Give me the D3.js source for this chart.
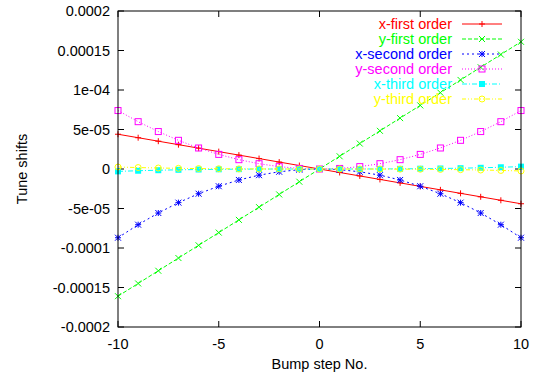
<!DOCTYPE html>
<html>
<head>
<meta charset="utf-8">
<script src="https://cdn.jsdelivr.net/npm/d3@7"></script>
<style>
  body { margin: 0; background: #fff; }
  text { font-family: "Liberation Sans", Arial, sans-serif; font-size: 14.5px; fill: #000; }
</style>
</head>
<body>
<script>
// bump steps
var steps = [-10,-9,-8,-7,-6,-5,-4,-3,-2,-1,0,1,2,3,4,5,6,7,8,9,10];

// tune shifts in units of 1e-6
var xFirst  = [44,39.6,35.2,30.8,26.4,22,17.6,13.2,8.8,4.4,0,-4.4,-8.8,-13.2,-17.6,-22,-26.4,-30.8,-35.2,-39.6,-44];
var yFirst  = [-161,-144.9,-128.8,-112.7,-96.6,-80.5,-64.4,-48.3,-32.2,-16.1,0,16.1,32.2,48.3,64.4,80.5,96.6,112.7,128.8,144.9,161];
var xSecond = [-87,-70.5,-55.7,-42.6,-31.3,-21.8,-13.9,-7.8,-3.5,-0.9,0,-0.9,-3.5,-7.8,-13.9,-21.8,-31.3,-42.6,-55.7,-70.5,-87];
var ySecond = [74,59.9,47.4,36.3,26.6,18.5,11.8,6.7,3.0,0.7,0,0.7,3.0,6.7,11.8,18.5,26.6,36.3,47.4,59.9,74];
var xThird  = [-3,-2.19,-1.54,-1.03,-0.65,-0.38,-0.19,-0.08,-0.02,0,0,0,0.02,0.08,0.19,0.38,0.65,1.03,1.54,2.19,3];
var yThird  = [2.5,1.82,1.28,0.86,0.54,0.31,0.16,0.07,0.02,0,0,0,-0.02,-0.07,-0.16,-0.31,-0.54,-0.86,-1.28,-1.82,-2.5];

var xTicks = [-10,-5,0,5,10];
var yTicks = [0.0002,0.00015,0.0001,0.00005,0,-0.00005,-0.0001,-0.00015,-0.0002];
var yTickLabels = ["0.0002","0.00015","1e-04","5e-05","0","-5e-05","-0.0001","-0.00015","-0.0002"];

var series = [
  {name:"x-first order",  vals:xFirst,  color:"#ff0000", dash:null,        pt:"plus"},
  {name:"y-first order",  vals:yFirst,  color:"#00ff00", dash:"4,2",       pt:"cross"},
  {name:"x-second order", vals:xSecond, color:"#0000ff", dash:"2,3",       pt:"star"},
  {name:"y-second order", vals:ySecond, color:"#ff00ff", dash:"1,2",       pt:"square"},
  {name:"x-third order",  vals:xThird,  color:"#00ffff", dash:"5,2,1,2",   pt:"fsquare"},
  {name:"y-third order",  vals:yThird,  color:"#ffff00", dash:"4,2,1,2,1,2", pt:"circle"}
];

var W = 537, H = 377;
var L = 118, R = 521, T = 11, B = 327;

var svg = d3.select("body").append("svg").attr("width", W).attr("height", H);

var x = d3.scaleLinear().domain([-10,10]).range([L,R]);
var y = d3.scaleLinear().domain([-0.0002,0.0002]).range([B,T]);

// ticks (inward, mirrored)
var tl = 6;
xTicks.forEach(function(t){
  svg.append("line").attr("x1",x(t)).attr("x2",x(t)).attr("y1",B).attr("y2",B-tl).attr("stroke","#000");
  svg.append("line").attr("x1",x(t)).attr("x2",x(t)).attr("y1",T).attr("y2",T+tl).attr("stroke","#000");
  svg.append("text").attr("x",x(t)).attr("y",B+22).attr("text-anchor","middle").text(t);
});
yTicks.forEach(function(t,i){
  svg.append("line").attr("x1",L).attr("x2",L+tl).attr("y1",y(t)).attr("y2",y(t)).attr("stroke","#000");
  svg.append("line").attr("x1",R).attr("x2",R-tl).attr("y1",y(t)).attr("y2",y(t)).attr("stroke","#000");
  svg.append("text").attr("x",L-8).attr("y",y(t)+5).attr("text-anchor","end").text(yTickLabels[i]);
});

function marker(g, px, py, type, color){
  var s = 3;
  if(type=="plus"){
    g.append("path").attr("d","M"+(px-s)+","+py+"h"+(2*s)+"M"+px+","+(py-s)+"v"+(2*s)).attr("stroke",color).attr("fill","none");
  } else if(type=="cross"){
    g.append("path").attr("d","M"+(px-s)+","+(py-s)+"l"+(2*s)+","+(2*s)+"M"+(px-s)+","+(py+s)+"l"+(2*s)+","+(-2*s)).attr("stroke",color).attr("fill","none");
  } else if(type=="star"){
    g.append("path").attr("d","M"+(px-s)+","+py+"h"+(2*s)+"M"+px+","+(py-s)+"v"+(2*s)+
      "M"+(px-s)+","+(py-s)+"l"+(2*s)+","+(2*s)+"M"+(px-s)+","+(py+s)+"l"+(2*s)+","+(-2*s)).attr("stroke",color).attr("fill","none");
  } else if(type=="square"){
    g.append("rect").attr("x",px-s).attr("y",py-s).attr("width",2*s).attr("height",2*s).attr("stroke",color).attr("fill","none");
  } else if(type=="fsquare"){
    g.append("rect").attr("x",px-s).attr("y",py-s).attr("width",2*s).attr("height",2*s).attr("fill",color);
  } else if(type=="circle"){
    g.append("circle").attr("cx",px).attr("cy",py).attr("r",s).attr("stroke",color).attr("fill","none");
  }
}

var line = d3.line().x(function(d){return x(d[0]);}).y(function(d){return y(d[1]);});

series.forEach(function(s){
  var pts = steps.map(function(st,i){ return [st, s.vals[i]*1e-6]; });
  var g = svg.append("g");
  g.append("path").attr("d", line(pts)).attr("fill","none").attr("stroke",s.color)
    .attr("stroke-dasharray", s.dash).attr("stroke-width",1);
  pts.forEach(function(p){ marker(g, x(p[0]), y(p[1]), s.pt, s.color); });
});

// legend
series.forEach(function(s,i){
  var ly = 24 + i*15;
  svg.append("text").attr("x",452).attr("y",ly+5).attr("text-anchor","end").style("fill",s.color).text(s.name);
  var g = svg.append("g");
  g.append("line").attr("x1",462).attr("x2",502).attr("y1",ly).attr("y2",ly).attr("stroke",s.color).attr("stroke-dasharray",s.dash);
  marker(g, 482, ly, s.pt, s.color);
});

// border
svg.append("rect").attr("x",L).attr("y",T).attr("width",R-L).attr("height",B-T).attr("fill","none").attr("stroke","#000");

svg.append("text").attr("x",(L+R)/2).attr("y",369).attr("text-anchor","middle").text("Bump step No.");
svg.append("text").attr("transform","translate(27,"+((T+B)/2)+") rotate(-90)").attr("text-anchor","middle").text("Tune shifts");
</script>
</body>
</html>
